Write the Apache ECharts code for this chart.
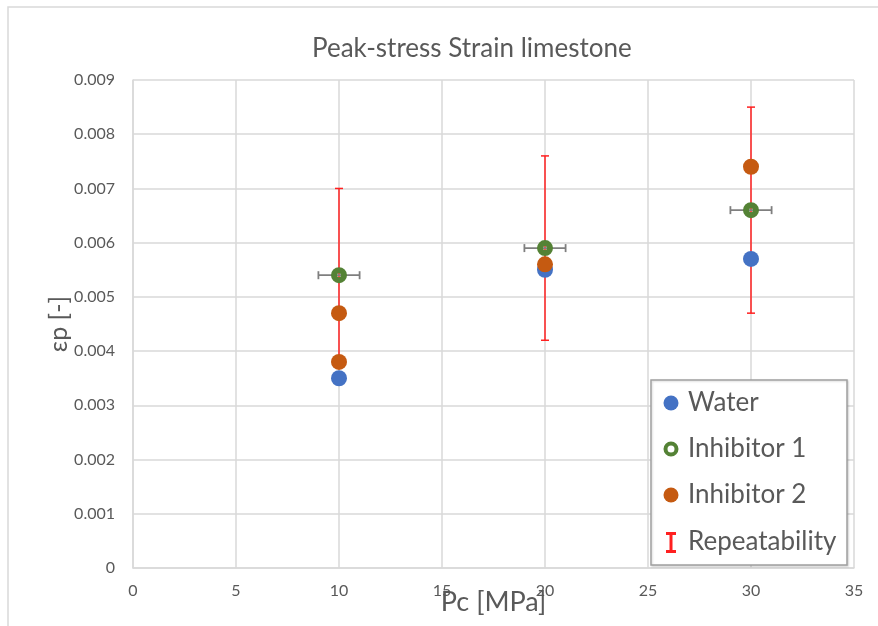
<!DOCTYPE html>
<html>
<head>
<meta charset="utf-8">
<script src="https://cdn.jsdelivr.net/npm/echarts@6/dist/echarts.min.js"></script>
<style>
  html, body { margin: 0; padding: 0; background: #fff; }
  #chart { width: 878px; height: 626px; }
</style>
</head>
<body>
<div id="chart"></div>
<script>
// Confining pressure (MPa) and peak-stress strain per fluid
const waterPc = [10, 20, 30];
const waterEps = [0.0035, 0.0055, 0.0057];

const inh1Pc = [10, 20, 30];
const inh1Eps = [0.0054, 0.0059, 0.0066];
const inh1PcErr = [1, 1, 1];                 // horizontal error, MPa
const inh1EpsErr = [0.0016, 0.0017, 0.0019]; // repeatability band

const inh2Pc = [10, 10, 20, 30];
const inh2Eps = [0.0047, 0.0038, 0.0056, 0.0074];

const xTicks = ['0', '5', '10', '15', '20', '25', '30', '35'];
const yTicks = ['0', '0.001', '0.002', '0.003', '0.004', '0.005', '0.006', '0.007', '0.008', '0.009'];

const C_WATER = '#4472C4';
const C_INH1 = '#548235';
const C_INH2 = '#C55A11';
const C_REP = '#FF2020';
const C_XERR = '#7F7F7F';
const FONT = 'Lato, "Open Sans", sans-serif';
const TXT = '#595959';

const pairs = (xs, ys) => xs.map((x, i) => [x, ys[i]]);

const chart = echarts.init(document.getElementById('chart'), null, { renderer: 'canvas' });

// vertical repeatability bars with end caps
function renderYErr(params, api) {
  const x = api.value(0), y = api.value(1), e = api.value(2);
  const top = api.coord([x, y + e]);
  const bot = api.coord([x, y - e]);
  const cap = 4;
  const style = { stroke: C_REP, lineWidth: 1.5 };
  return {
    type: 'group',
    children: [
      { type: 'line', shape: { x1: top[0], y1: top[1], x2: bot[0], y2: bot[1] }, style },
      { type: 'line', shape: { x1: top[0] - cap, y1: top[1], x2: top[0] + cap, y2: top[1] }, style },
      { type: 'line', shape: { x1: bot[0] - cap, y1: bot[1], x2: bot[0] + cap, y2: bot[1] }, style }
    ]
  };
}

// horizontal pressure bars with end caps
function renderXErr(params, api) {
  const x = api.value(0), y = api.value(1), e = api.value(2);
  const l = api.coord([x - e, y]);
  const r = api.coord([x + e, y]);
  const cap = 4;
  const style = { stroke: C_XERR, lineWidth: 1.8 };
  return {
    type: 'group',
    children: [
      { type: 'line', shape: { x1: l[0], y1: l[1], x2: r[0], y2: r[1] }, style },
      { type: 'line', shape: { x1: l[0], y1: l[1] - cap, x2: l[0], y2: l[1] + cap }, style },
      { type: 'line', shape: { x1: r[0], y1: r[1] - cap, x2: r[0], y2: r[1] + cap }, style }
    ]
  };
}

// legend box drawn as graphic elements on top of the plot
const LX = 651, LY = 380, LW = 196, LH = 185;
const rows = [403, 449, 495, 542];
const LZ = 100;
const legendItems = [
  { type: 'rect', z: LZ, silent: true, shape: { x: LX, y: LY, width: LW, height: LH },
    style: { fill: '#fff', stroke: '#a0a0a0', lineWidth: 1.5, shadowColor: 'rgba(0,0,0,0.15)', shadowBlur: 2, shadowOffsetX: 1, shadowOffsetY: 1 } },
  { type: 'circle', z: LZ + 1, silent: true, shape: { cx: 671, cy: rows[0], r: 7.5 }, style: { fill: C_WATER } },
  { type: 'circle', z: LZ + 1, silent: true, shape: { cx: 671, cy: rows[1], r: 5.5 }, style: { fill: '#fff', stroke: C_INH1, lineWidth: 4 } },
  { type: 'circle', z: LZ + 1, silent: true, shape: { cx: 671, cy: rows[2], r: 7.5 }, style: { fill: C_INH2 } },
  { type: 'polygon', z: LZ + 1, silent: true, shape: { points: [[666, 532], [676, 532], [676, 535], [672.5, 535], [672.5, 550], [676, 550], [676, 553], [666, 553], [666, 550], [669.5, 550], [669.5, 535], [666, 535]] }, style: { fill: C_REP } }
];
['Water', 'Inhibitor 1', 'Inhibitor 2', 'Repeatability'].forEach((t, i) => {
  legendItems.push({ type: 'text', z: LZ + 1, silent: true, x: 688, y: rows[i],
    style: { text: t, fill: TXT, font: '26px ' + FONT, verticalAlign: 'middle', align: 'left' } });
});

const option = {
  backgroundColor: '#fff',
  animation: false,
  title: {
    text: 'Peak-stress Strain limestone',
    left: 307, top: 31,
    textStyle: { color: TXT, fontSize: 26, fontWeight: 'normal', fontFamily: FONT }
  },
  grid: { left: 133, right: 24, top: 80, bottom: 58, outerBoundsMode: 'none', containLabel: false },
  xAxis: {
    type: 'value', min: 0, max: 35, interval: 5,
    name: 'Pc [MPa]', nameLocation: 'middle', nameGap: 21, nameMoveOverlap: false,
    nameTextStyle: { color: TXT, fontSize: 27, fontFamily: FONT },
    axisLine: { show: true, lineStyle: { color: '#d9d9d9', width: 1.5 } },
    axisTick: { show: false },
    axisLabel: { color: TXT, fontSize: 16, fontFamily: FONT, margin: 15,
      formatter: v => xTicks[Math.round(v / 5)] },
    splitLine: { show: true, lineStyle: { color: '#d9d9d9', width: 1.5 } }
  },
  yAxis: {
    type: 'value', min: 0, max: 0.009, interval: 0.001,
    name: 'εp [-]', nameLocation: 'middle', nameGap: 62, nameRotate: 90, nameMoveOverlap: false,
    nameTextStyle: { color: TXT, fontSize: 25, fontFamily: FONT },
    axisLine: { show: true, lineStyle: { color: '#d9d9d9', width: 1.5 } },
    axisTick: { show: false },
    axisLabel: { color: TXT, fontSize: 16, fontFamily: FONT, margin: 18,
      formatter: v => yTicks[Math.round(v / 0.001)] },
    splitLine: { show: true, lineStyle: { color: '#d9d9d9', width: 1.5 } }
  },
  series: [
    {
      name: 'Repeatability', type: 'custom', renderItem: renderYErr, z: 1,
      data: inh1Pc.map((x, i) => [x, inh1Eps[i], inh1EpsErr[i]]),
      silent: true
    },
    {
      name: 'Pressure error', type: 'custom', renderItem: renderXErr, z: 1,
      data: inh1Pc.map((x, i) => [x, inh1Eps[i], inh1PcErr[i]]),
      silent: true
    },
    {
      name: 'Water', type: 'scatter', z: 3, symbol: 'circle', symbolSize: 16,
      itemStyle: { color: C_WATER, opacity: 1 },
      data: pairs(waterPc, waterEps), silent: true
    },
    {
      name: 'Inhibitor 1', type: 'scatter', z: 4, symbol: 'circle', symbolSize: 10,
      itemStyle: { color: 'rgba(0,0,0,0)', borderColor: C_INH1, borderWidth: 6, opacity: 1 },
      data: pairs(inh1Pc, inh1Eps), silent: true
    },
    {
      name: 'Inhibitor 2', type: 'scatter', z: 5, symbol: 'circle', symbolSize: 16,
      itemStyle: { color: C_INH2, opacity: 1 },
      data: pairs(inh2Pc, inh2Eps), silent: true
    }
  ],
  graphic: [
    { type: 'rect', z: -1, silent: true, shape: { x: 8, y: 7, width: 1000, height: 1000 },
      style: { fill: 'none', stroke: '#d9d9d9', lineWidth: 1.5 } }
  ].concat(legendItems)
};

chart.setOption(option);
</script>
</body>
</html>
